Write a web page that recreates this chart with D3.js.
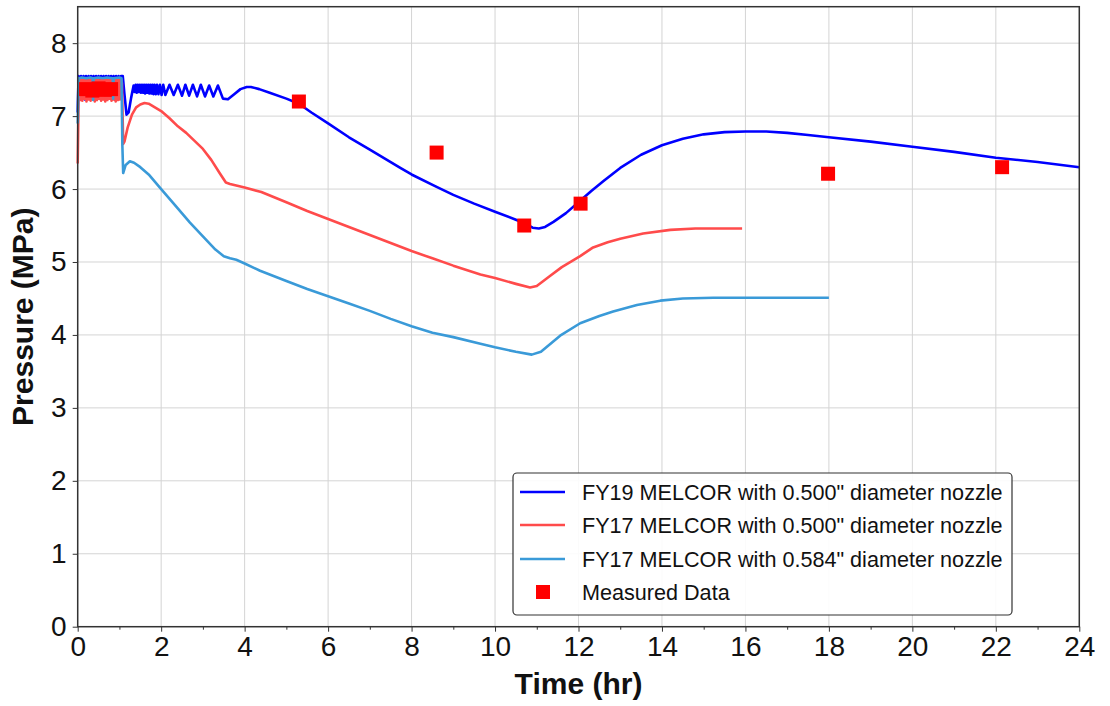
<!DOCTYPE html>
<html><head><meta charset="utf-8">
<script src="https://cdn.jsdelivr.net/npm/d3@7"></script>
<style>body{margin:0;background:#fff}svg{display:block}</style>
</head><body>
<svg id="c" width="1110" height="706"></svg>
<script>
const fy19Time = [0,0.02,0.05,0.08,0.11,0.14,0.17,0.20,0.23,0.26,0.29,0.32,0.35,0.38,0.41,0.44,0.47,0.50,0.53,0.56,0.59,0.62,0.65,0.68,0.71,0.74,0.77,0.80,0.83,0.86,0.89,0.92,0.95,0.98,1.01,1.04,1.08,
 1.12,1.17,1.22,1.28,1.34,1.365,1.39,1.415,1.44,1.465,1.49,1.515,1.54,1.565,1.59,1.615,1.64,1.665,1.69,1.715,1.74,1.765,1.79,1.815,1.84,1.87,1.90,1.935,1.97,2.01,2.05,2.10,2.20,2.30,2.40,2.50,2.58,2.67,2.76,2.86,2.95,3.05,3.15,3.25,3.36,3.48,3.60,3.75,3.90,4.05,4.15,4.35,4.60,
 5.00,5.30,5.60,6.00,6.50,7.00,7.73,8.00,8.60,9.00,9.50,10.0,10.5,10.75,10.9,11.05,11.2,11.4,11.7,12.04,12.3,12.6,13.0,13.5,14.0,14.5,15.0,15.5,16.0,16.5,17.0,17.5,18.0,19.0,20.0,21.0,22.0,23.0,24.0];
const fy19Pressure = [7.05,7.55,7.24,7.55,7.26,7.55,7.23,7.55,7.27,7.55,7.24,7.55,7.25,7.55,7.22,7.55,7.26,7.55,7.24,7.55,7.27,7.55,7.23,7.55,7.25,7.55,7.24,7.55,7.26,7.55,7.23,7.55,7.25,7.55,7.24,7.55,7.55,
 7.30,7.02,7.05,7.25,7.42,7.33,7.43,7.32,7.43,7.33,7.43,7.32,7.43,7.32,7.43,7.31,7.43,7.32,7.43,7.31,7.43,7.31,7.43,7.30,7.43,7.30,7.43,7.30,7.43,7.29,7.43,7.29,7.43,7.29,7.43,7.28,7.43,7.28,7.43,7.27,7.43,7.27,7.42,7.27,7.42,7.24,7.23,7.30,7.37,7.40,7.40,7.37,7.32,
 7.24,7.17,7.05,6.90,6.71,6.54,6.29,6.20,6.03,5.92,5.80,5.69,5.58,5.52,5.47,5.46,5.48,5.55,5.67,5.84,5.97,6.11,6.29,6.47,6.60,6.69,6.75,6.78,6.79,6.79,6.77,6.74,6.71,6.65,6.58,6.51,6.43,6.37,6.30];

const fy17aTime = [0,0.02,0.04,0.06,0.085,0.11,0.135,0.16,0.185,0.21,0.235,0.26,0.285,0.31,0.335,0.36,0.385,0.41,0.435,0.46,0.485,0.51,0.535,0.56,0.585,0.61,0.635,0.66,0.685,0.71,0.735,0.76,0.785,0.81,0.835,0.86,0.885,0.91,0.935,0.96,0.985,1.01,1.04,1.06,
 1.09,1.12,1.2,1.3,1.4,1.5,1.6,1.7,1.85,2.0,2.2,2.4,2.6,2.8,3.0,3.2,3.4,3.55,3.65,3.8,4.0,4.4,5.0,5.5,6.0,6.5,7.0,7.5,8.0,8.5,9.0,9.65,10.0,10.5,10.84,11.0,11.3,11.6,12.04,12.35,12.7,13.0,13.55,14.2,14.8,15.3,15.92];
const fy17aPressure = [6.35,7.20,7.50,7.22,7.51,7.21,7.50,7.24,7.51,7.20,7.49,7.23,7.51,7.21,7.50,7.25,7.51,7.20,7.50,7.22,7.51,7.24,7.49,7.21,7.51,7.23,7.50,7.20,7.51,7.22,7.50,7.24,7.51,7.21,7.50,7.23,7.51,7.20,7.50,7.22,7.51,7.23,7.50,7.45,
 6.62,6.65,6.85,7.02,7.12,7.16,7.18,7.17,7.12,7.07,6.97,6.86,6.77,6.66,6.55,6.40,6.22,6.09,6.07,6.05,6.02,5.96,5.82,5.70,5.59,5.48,5.37,5.26,5.15,5.05,4.95,4.83,4.78,4.70,4.65,4.67,4.80,4.93,5.08,5.20,5.27,5.32,5.39,5.44,5.46,5.46,5.46];

const fy17bTime = [0,0.02,0.1,0.2,0.3,0.36,0.37,0.38,0.5,0.6,0.7,0.84,0.85,0.86,1.0,1.05,1.07,1.09,1.15,1.25,1.35,1.5,1.7,2.0,2.3,2.69,3.0,3.3,3.5,3.65,3.8,4.0,4.37,5.0,5.5,6.0,6.5,7.0,7.5,8.0,8.5,9.0,9.65,10.0,10.5,10.88,11.1,11.56,12.04,12.5,12.83,13.4,13.96,14.5,15.23,16.0,17.0,18.0];
const fy17bPressure = [6.9,7.52,7.53,7.52,7.53,7.52,7.22,7.52,7.53,7.52,7.53,7.52,7.24,7.52,7.53,7.52,6.6,6.22,6.33,6.38,6.36,6.30,6.20,6.00,5.80,5.54,5.35,5.17,5.08,5.05,5.03,4.98,4.88,4.74,4.63,4.53,4.43,4.33,4.22,4.12,4.03,3.97,3.88,3.83,3.77,3.73,3.77,3.99,4.16,4.26,4.32,4.41,4.47,4.50,4.51,4.51,4.51,4.51];

const measTime = [0.2,0.35,0.5,0.65,0.8,5.3,8.6,10.7,12.05,17.98,22.15];
const measPressure = [7.37,7.35,7.38,7.36,7.37,7.20,6.50,5.50,5.80,6.21,6.30];

const xTicks = [0,2,4,6,8,10,12,14,16,18,20,22,24];
const xMinorTicks = [1,3,5,7,9,11,13,15,17,19,21,23];
const yTicks = [0,1,2,3,4,5,6,7,8];

const seriesNames = ['FY19 MELCOR with 0.500" diameter nozzle','FY17 MELCOR with 0.500" diameter nozzle','FY17 MELCOR with 0.584" diameter nozzle','Measured Data'];
const seriesColors = ['#0000ff','#ff4b4b','#3a9ad8','#ff0000'];

const svg = d3.select('#c');
const L = 77.7, R = 1079.3, T = 6.7, B = 626.7;
const x = d3.scaleLinear().domain([0,24]).range([L,R]);
const y = d3.scaleLinear().domain([0,8.5]).range([B,T]);
const font = '"Liberation Sans", Arial, sans-serif';

// grid
const g = svg.append('g');
g.selectAll('.gx').data(xTicks).enter().append('line')
 .attr('x1',d=>x(d)).attr('x2',d=>x(d)).attr('y1',T).attr('y2',B)
 .attr('stroke','#d4d4d4').attr('stroke-width',1);
g.selectAll('.gy').data(yTicks).enter().append('line')
 .attr('x1',L).attr('x2',R).attr('y1',d=>y(d)).attr('y2',d=>y(d))
 .attr('stroke','#d4d4d4').attr('stroke-width',1);

// lines
const line = d3.line().x(d=>x(d[0])).y(d=>y(d[1]));
const zip = (a,b)=>a.map((v,i)=>[v,b[i]]);
const lineData = [zip(fy19Time,fy19Pressure), zip(fy17aTime,fy17aPressure), zip(fy17bTime,fy17bPressure)];
[0,1,2].forEach(i=>{
  svg.append('path').datum(lineData[i]).attr('d',line)
   .attr('fill','none').attr('stroke',seriesColors[i]).attr('stroke-width',2.6)
   .attr('stroke-linejoin','round');
});

// measured
const sq = 14;
svg.selectAll('.m').data(zip(measTime,measPressure)).enter().append('rect')
 .attr('x',d=>x(d[0])-sq/2).attr('y',d=>y(d[1])-sq/2).attr('width',sq).attr('height',sq)
 .attr('fill',seriesColors[3]);

// axes
const xAxis = d3.axisBottom(x).tickValues(xTicks).tickSize(5).tickPadding(4).tickFormat(d3.format('d'));
const gxA = svg.append('g').attr('transform',`translate(0,${B})`).call(xAxis);
const xMinor = d3.axisBottom(x).tickValues(xMinorTicks).tickSize(3).tickFormat('');
const gxm = svg.append('g').attr('transform',`translate(0,${B})`).call(xMinor);
gxm.select('.domain').remove();
const yAxis = d3.axisLeft(y).tickValues(yTicks).tickSize(5).tickPadding(6).tickFormat(d3.format('d'));
const gyA = svg.append('g').attr('transform',`translate(${L},0)`).call(yAxis);
[gxA,gyA,gxm].forEach(a=>{
  a.selectAll('.tick line').attr('stroke','#333');
  a.selectAll('.tick text').attr('font-family',font).attr('font-size',28).attr('fill','#111');
});
gxA.select('.domain').remove(); gyA.select('.domain').remove();
svg.append('rect').attr('x',L).attr('y',T).attr('width',R-L).attr('height',B-T)
 .attr('fill','none').attr('stroke','#333').attr('stroke-width',1.5);

// titles
svg.append('text').attr('x',(L+R)/2).attr('y',694).attr('text-anchor','middle')
 .attr('font-family',font).attr('font-weight','bold').attr('font-size',30).attr('fill','#111').text('Time (hr)');
svg.append('text').attr('transform',`translate(33,${(T+B)/2}) rotate(-90)`).attr('text-anchor','middle')
 .attr('font-family',font).attr('font-weight','bold').attr('font-size',30).attr('fill','#111').text('Pressure (MPa)');

// legend
const lg = svg.append('g');
lg.append('rect').attr('x',513).attr('y',473).attr('width',499).attr('height',142).attr('rx',4)
 .attr('fill','#fff').attr('fill-opacity',0.9).attr('stroke','#333').attr('stroke-width',1.2);
const rowY = [492,525,559,592];
seriesNames.forEach((n,i)=>{
  if(i<3){
    lg.append('line').attr('x1',520).attr('x2',565).attr('y1',rowY[i]).attr('y2',rowY[i])
      .attr('stroke',seriesColors[i]).attr('stroke-width',2.6);
  } else {
    lg.append('rect').attr('x',543-7).attr('y',rowY[i]-7).attr('width',14).attr('height',14).attr('fill',seriesColors[i]);
  }
  lg.append('text').attr('x',582).attr('y',rowY[i]+7.7).attr('font-family',font).attr('font-size',21.6)
    .attr('fill','#111').text(n);
});
</script>
</body></html>
